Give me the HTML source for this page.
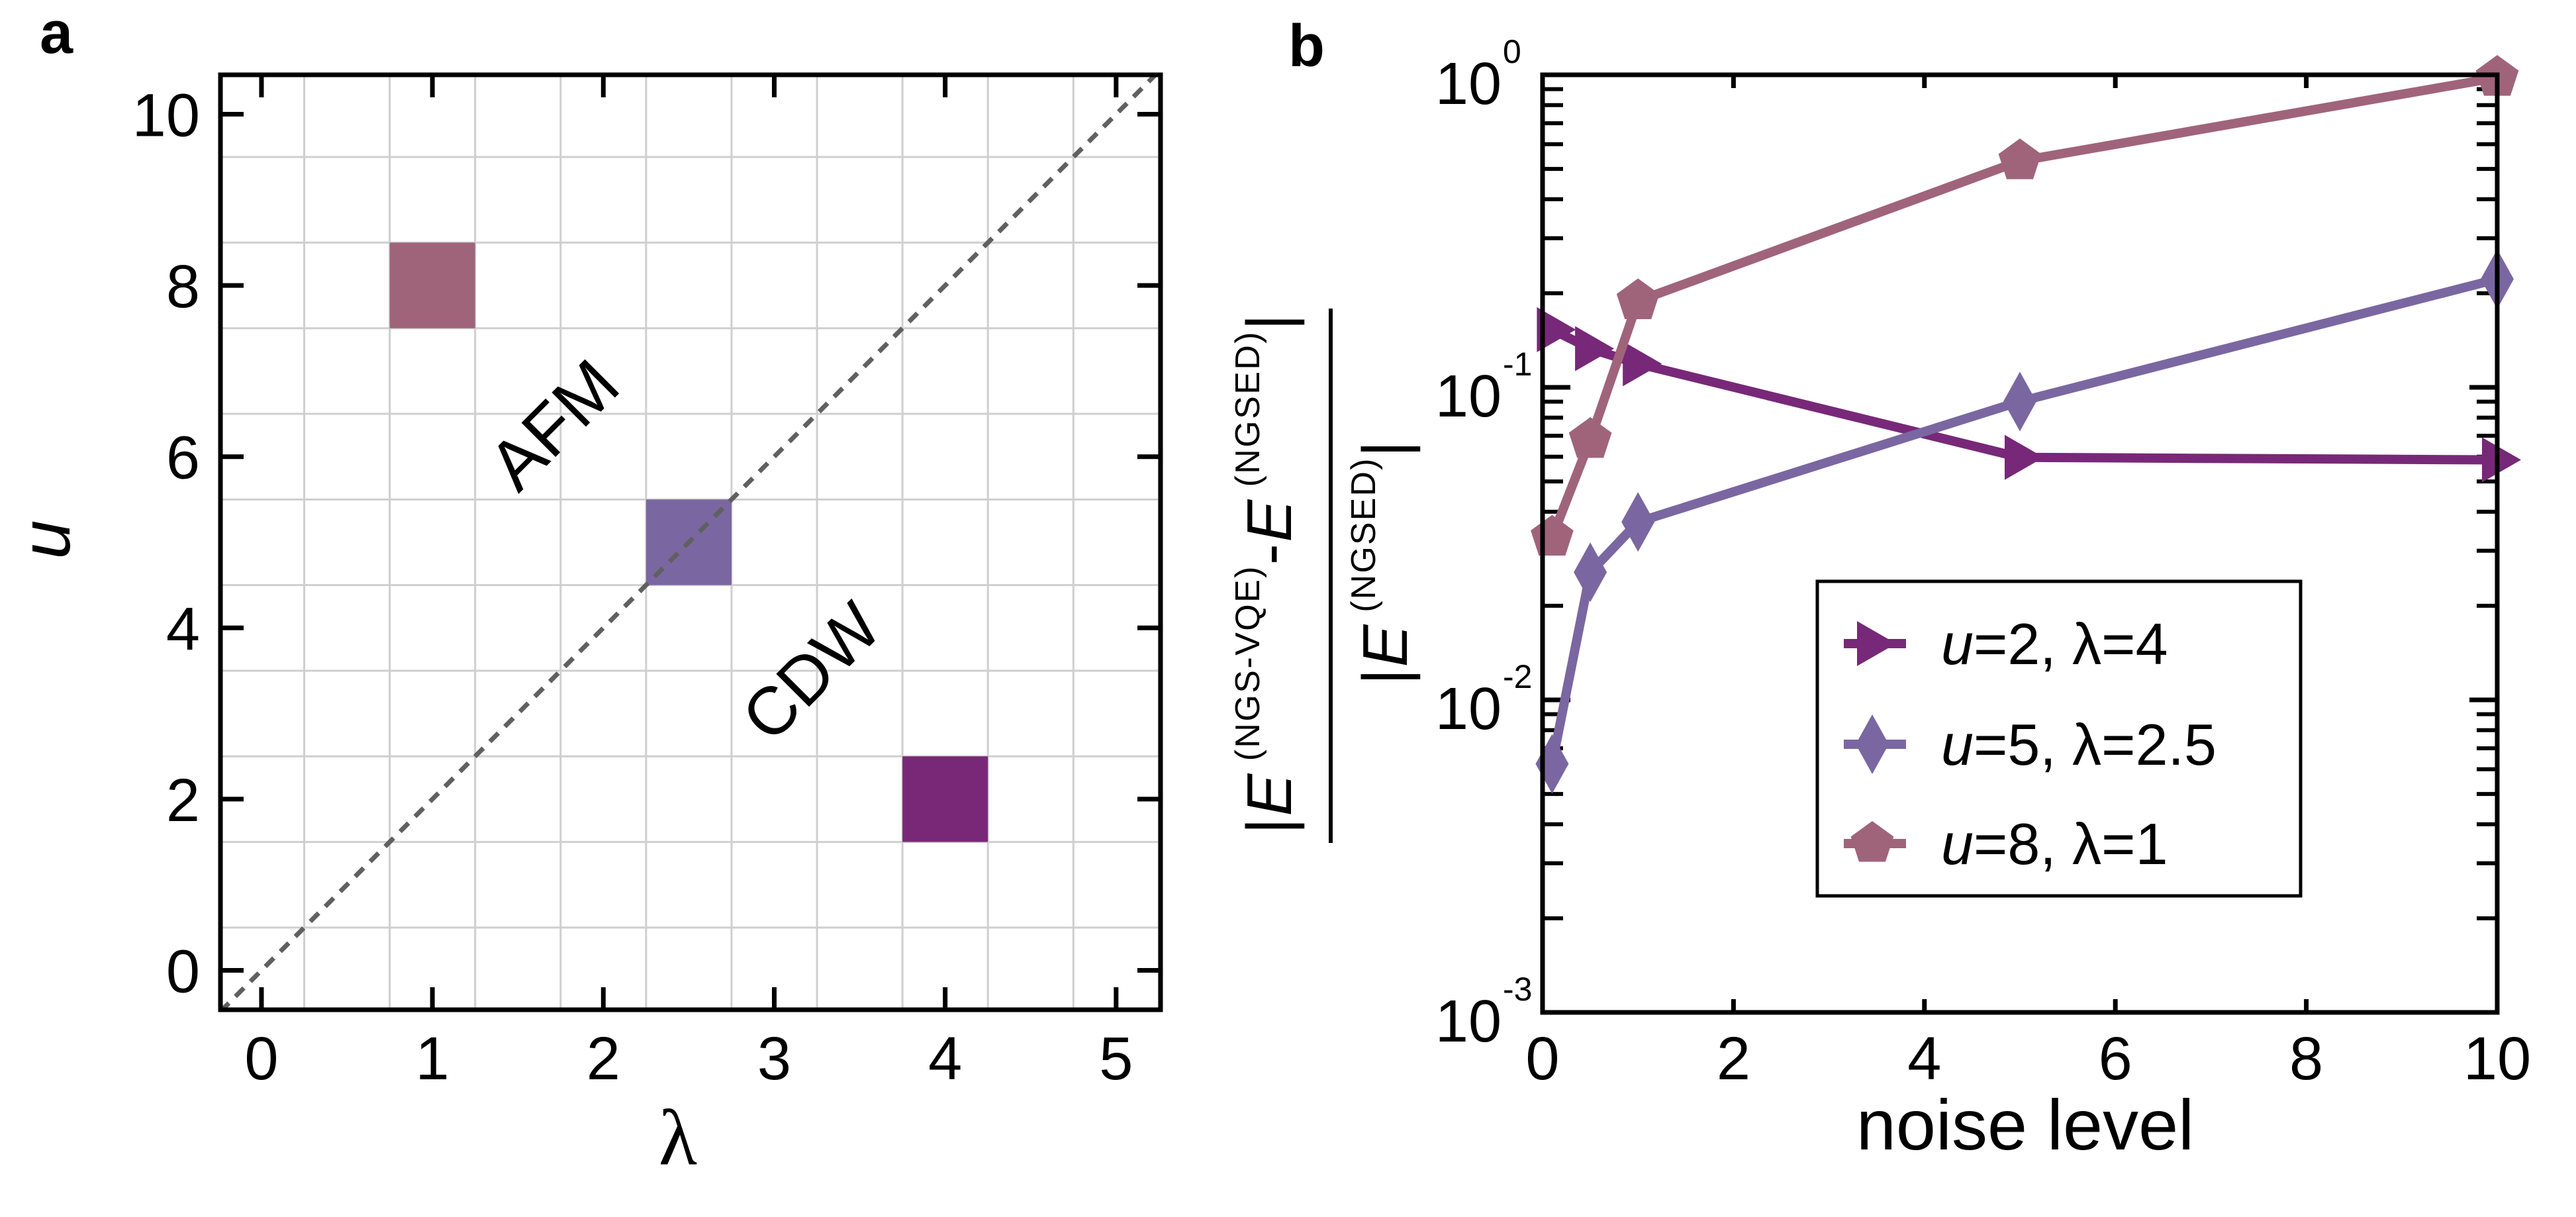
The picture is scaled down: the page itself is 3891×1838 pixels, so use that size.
<!DOCTYPE html>
<html><head><meta charset="utf-8"><style>
html,body{margin:0;padding:0;background:#fff;}
svg{display:block;font-family:"Liberation Sans",sans-serif;}
</style></head><body>
<svg id="fig" width="3891" height="1838" viewBox="0 0 3891 1838" xmlns="http://www.w3.org/2000/svg">
<defs>
<clipPath id="clipA"><rect x="333" y="113" width="1420" height="1412"/></clipPath>
</defs>
<g id="panelA"></g>
<g id="panelB"></g>
</svg>
<script>
// ---------- Panel a data ----------
const phaseLambda = [1, 2.5, 4];
const phaseU = [8, 5, 2];
const phaseColors = ['#a0647a', '#7a67a1', '#792878'];
const aXTicks = [0, 1, 2, 3, 4, 5];
const aYTicks = [0, 2, 4, 6, 8, 10];
// ---------- Panel b data ----------
const noiseLevels = [0.1, 0.5, 1, 5, 10];
const seriesU2 = [0.153, 0.133, 0.119, 0.0597, 0.0586];
const seriesU5 = [0.00624, 0.0256, 0.0371, 0.0901, 0.222];
const seriesU8 = [0.0331, 0.068, 0.189, 0.53, 0.98];
const seriesLabels = ['u=2, λ=4', 'u=5, λ=2.5', 'u=8, λ=1'];
const bXTicks = [0, 2, 4, 6, 8, 10];
const bYDecades = [-3, -2, -1, 0];

const NS = 'http://www.w3.org/2000/svg';
function mk(tag, attrs, parent) {
  const e = document.createElementNS(NS, tag);
  for (const k in attrs) e.setAttribute(k, attrs[k]);
  parent.appendChild(e);
  return e;
}
const A = document.getElementById('panelA');
const B = document.getElementById('panelB');

// ---- Panel a axes ----
const aL = 333, aR = 1753, aT = 113, aBt = 1525;
const axMin = -0.24, axMax = 5.26, ayMin = -0.46, ayMax = 10.46;
const ax = v => aL + (v - axMin) / (axMax - axMin) * (aR - aL);
const ay = v => aBt - (v - ayMin) / (ayMax - ayMin) * (aBt - aT);

const gridA = mk('g', {'clip-path': 'url(#clipA)'}, A);


for (let v = 0.25; v < axMax; v += 0.5) {
  const l = mk('line', {x1: ax(v), x2: ax(v), y1: aT, y2: aBt, stroke: '#cfcfcf', 'stroke-width': 3}, gridA);
  
  
}
for (let v = -0.5; v < ayMax; v += 1) {
  const l = mk('line', {x1: aL, x2: aR, y1: ay(v), y2: ay(v), stroke: '#cfcfcf', 'stroke-width': 3}, gridA);
  
  
}
phaseLambda.forEach((lam, i) => {
  const r = mk('rect', {x: ax(lam - 0.25), y: ay(phaseU[i] + 0.5), width: ax(lam + 0.25) - ax(lam - 0.25), height: ay(phaseU[i] - 0.5) - ay(phaseU[i] + 0.5), fill: phaseColors[i]}, A);
  
  
});
const dl = mk('line', {x1: ax(axMin), y1: ay(2 * axMin), x2: ax(axMax), y2: ay(2 * axMax), stroke: '#606060', 'stroke-width': 7, 'stroke-dasharray': '18 14', 'clip-path': 'url(#clipA)'}, A);



aXTicks.forEach(v => {
  const t1 = mk('line', {x1: ax(v), x2: ax(v), y1: aBt, y2: aBt - 34, stroke: '#000', 'stroke-width': 7}, A);
  
  
  const t2 = mk('line', {x1: ax(v), x2: ax(v), y1: aT, y2: aT + 34, stroke: '#000', 'stroke-width': 7}, A);
  
  
  const tx = mk('text', {x: ax(v), y: 1630, 'font-size': 92, 'text-anchor': 'middle'}, A);
  tx.textContent = v;
  
  
});
aYTicks.forEach(v => {
  const t1 = mk('line', {x1: aL, x2: aL + 35, y1: ay(v), y2: ay(v), stroke: '#000', 'stroke-width': 7}, A);
  
  
  const t2 = mk('line', {x1: aR, x2: aR - 35, y1: ay(v), y2: ay(v), stroke: '#000', 'stroke-width': 7}, A);
  
  
  const tx = mk('text', {x: 302, y: ay(v) + 33, 'font-size': 92, 'text-anchor': 'end'}, A);
  tx.textContent = v;
  
  
});
const frA = mk('rect', {x: aL, y: aT, width: aR - aL, height: aBt - aT, fill: 'none', stroke: '#000', 'stroke-width': 7}, A);



function label(parent, name, txt, attrs) {
  const t = mk('text', attrs, parent);
  t.textContent = txt;
  
  
  return t;
}
label(A, 'panel-label-a', 'a', {x: 60, y: 80, 'font-size': 90, 'font-weight': 'bold'});
label(A, 'x-axis-title', 'λ', {x: 1024, y: 1758, 'font-size': 120, 'text-anchor': 'middle', 'font-family': '"Liberation Serif",serif'});
label(A, 'y-axis-title', 'u', {x: 0, y: 0, 'font-size': 106, 'font-style': 'italic', 'text-anchor': 'middle', transform: 'translate(105,815) rotate(-90)'});
label(A, 'afm-region-label', 'AFM', {x: 0, y: 0, 'font-size': 106, 'text-anchor': 'middle', transform: 'translate(836,641) rotate(-45) translate(0,37)'});
label(A, 'cdw-region-label', 'CDW', {x: 0, y: 0, 'font-size': 102, 'text-anchor': 'middle', transform: 'translate(1224,1013) rotate(-45) translate(0,37)'});

// ---- Panel b axes ----
const bL = 2330, bR = 3772, bT = 113, bBt = 1529;
const bx = v => bL + v / 10 * (bR - bL);
const by = v => bBt - (Math.log10(v) + 3) / 3 * (bBt - bT);

bXTicks.forEach(v => {
  const t1 = mk('line', {x1: bx(v), x2: bx(v), y1: bBt, y2: bBt - 20, stroke: '#000', 'stroke-width': 7}, B);
  
  
  const t2 = mk('line', {x1: bx(v), x2: bx(v), y1: bT, y2: bT + 20, stroke: '#000', 'stroke-width': 7}, B);
  
  
  label(B, 'x-tick-label', v, {x: bx(v), y: 1630, 'font-size': 92, 'text-anchor': 'middle'});
});
bYDecades.forEach(d => {
  const yv = Math.pow(10, d);
  [[bL, 42], [bR, -42]].forEach(([x0, len]) => {
    const t = mk('line', {x1: x0, x2: x0 + len, y1: by(yv), y2: by(yv), stroke: '#000', 'stroke-width': 7}, B);
    
    
  });
  if (d < 0) {
    for (let m = 2; m <= 9; m++) {
      const mv = m * yv;
      [[bL, 31], [bR, -31]].forEach(([x0, len]) => {
        const t = mk('line', {x1: x0, x2: x0 + len, y1: by(mv), y2: by(mv), stroke: '#000', 'stroke-width': 6}, B);
        
        
      });
    }
  }
  const t = mk('text', {x: 2268, y: by(yv) + 44, 'font-size': 90, 'text-anchor': 'end'}, B);
  t.textContent = '10';
  
  
  label(B, 'y-tick-label-exponent', d === 0 ? '0' : String(d), {x: 2270, y: by(yv) - 18, 'font-size': 50});
});

const seriesVals = [seriesU2, seriesU5, seriesU8];
const seriesCols = ['#782878', '#7a67a1', '#a0647a'];
const seriesNames = ['series-u2-lambda4', 'series-u5-lambda2-5', 'series-u8-lambda1'];
function marker(kind, x, y, col, parent) {
  let pts;
  if (kind === 0) pts = [[x - 23, y - 34], [x + 36, y], [x - 23, y + 34]];
  else if (kind === 1) pts = [[x, y - 45], [x + 25, y], [x, y + 45], [x - 25, y]];
  else { pts = []; for (let k = 0; k < 5; k++) { const a = -Math.PI / 2 + k * 2 * Math.PI / 5; pts.push([x + 34 * Math.cos(a), y + 34 * Math.sin(a)]); } }
  return mk('polygon', {points: pts.map(p => p.join(',')).join(' '), fill: col}, parent);
}
const plotB = mk('g', {}, B);


seriesVals.forEach((vals, s) => {
  const g = mk('g', {}, plotB);
  
  
  const ln = mk('polyline', {points: vals.map((v, i) => bx(noiseLevels[i]) + ',' + by(v)).join(' '), fill: 'none', stroke: seriesCols[s], 'stroke-width': 14, 'stroke-linejoin': 'round'}, g);
  
  
  vals.forEach((v, i) => {
    const m = marker(s, bx(noiseLevels[i]), by(v), seriesCols[s], g);
    
    
  });
});
const frB = mk('rect', {x: bL, y: bT, width: bR - bL, height: bBt - bT, fill: 'none', stroke: '#000', 'stroke-width': 7}, B);



// legend
const leg = mk('g', {}, B);


const lb = mk('rect', {x: 2745, y: 878, width: 730, height: 475, fill: '#fff', stroke: '#000', 'stroke-width': 5}, leg);


const legY = [972, 1124, 1274];
seriesLabels.forEach((lab, s) => {
  const e = mk('g', {}, leg);
  
  
  const l = mk('line', {x1: 2785, x2: 2879, y1: legY[s], y2: legY[s], stroke: seriesCols[s], 'stroke-width': 14}, e);
  
  
  const m = marker(s, 2828, legY[s], seriesCols[s], e);
  
  
  const t = mk('text', {x: 2932, y: legY[s] + 31, 'font-size': 88}, e);
  
  
  const parts = lab.split('=');
  const it = mk('tspan', {'font-style': 'italic'}, t); it.textContent = parts[0];
  const rest = mk('tspan', {}, t); rest.textContent = '=' + parts.slice(1).join('=');
});

label(B, 'panel-label-b', 'b', {x: 1946, y: 100, 'font-size': 90, 'font-weight': 'bold'});
label(B, 'x-axis-title', 'noise level', {x: 3059, y: 1736, 'font-size': 108, 'text-anchor': 'middle'});

// y-axis title (fraction)
const yt = mk('g', {}, B);


const num = mk('text', {x: 0, y: 0, 'font-size': 96, 'text-anchor': 'middle', transform: 'translate(1950,867) rotate(-90)', textLength: 786, lengthAdjust: 'spacing'}, yt);


[['|', {}], ['E', {'font-style': 'italic'}], [' (NGS-VQE)', {'font-size': 52, dy: -48}], ['-', {dy: 48}], ['E', {'font-style': 'italic'}], [' (NGSED)', {'font-size': 52, dy: -48}], ['|', {dy: 48}]].forEach(([s, at]) => { const ts = mk('tspan', at, num); ts.textContent = s; });
const bar = mk('line', {x1: 2010, x2: 2010, y1: 466, y2: 1273, stroke: '#000', 'stroke-width': 6}, yt);


const den = mk('text', {x: 0, y: 0, 'font-size': 96, 'text-anchor': 'middle', transform: 'translate(2125,850) rotate(-90)', textLength: 369, lengthAdjust: 'spacing'}, yt);


[['|', {}], ['E', {'font-style': 'italic'}], [' (NGSED)', {'font-size': 52, dy: -48}], ['|', {dy: 48}]].forEach(([s, at]) => { const ts = mk('tspan', at, den); ts.textContent = s; });
</script>
</body></html>
